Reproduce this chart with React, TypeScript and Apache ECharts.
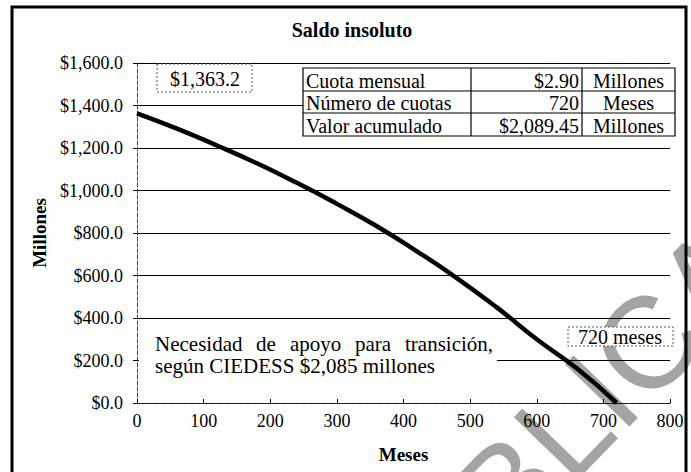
import React, { useEffect, useRef } from "react";
import * as echarts from "echarts";

const months = [0, 60, 120, 180, 240, 300, 360, 420, 480, 540, 600, 660, 720];
const saldo = [1363.2, 1291, 1212, 1128, 1036, 937, 832, 714, 588, 450, 300, 163, 0];
const xTicks = { min: 0, max: 800, interval: 100 };
const yTicks = { min: 0, max: 1600, interval: 200 };
const tableRows = [
  ["Cuota mensual", "$2.90", "Millones"],
  ["Número de cuotas", "720", "Meses"],
  ["Valor acumulado", "$2,089.45", "Millones"],
];
const startLabel = "$1,363.2";
const endLabel = "720 meses";
const noteLine1Words = ["Necesidad", "de", "apoyo", "para", "transición,"];
const noteLine2 = "según CIEDESS $2,085 millones";
const watermark = "PÚBLICA";

const SERIF = "'Liberation Serif', 'Times New Roman', serif";

export default function App() {
  const ref = useRef<HTMLDivElement>(null);
  useEffect(() => {
    const chart = echarts.init(ref.current!, null, { renderer: "svg" });
    const data = months.map((m, i) => [m, saldo[i]]);

    const tx0 = 303, tx1 = 471, tx2 = 582, tx3 = 675;
    const ty = [68, 91, 113, 136];
    const tableEls: any[] = [
      { type: "rect", shape: { x: tx0, y: ty[0], width: tx3 - tx0, height: ty[3] - ty[0] }, style: { fill: "#fff", stroke: "#000", lineWidth: 1.2 }, z: 10 },
      { type: "line", shape: { x1: tx0, y1: ty[1], x2: tx3, y2: ty[1] }, style: { stroke: "#000", lineWidth: 1.2 }, z: 11 },
      { type: "line", shape: { x1: tx0, y1: ty[2], x2: tx3, y2: ty[2] }, style: { stroke: "#000", lineWidth: 1.2 }, z: 11 },
      { type: "line", shape: { x1: tx1, y1: ty[0], x2: tx1, y2: ty[3] }, style: { stroke: "#000", lineWidth: 1.2 }, z: 11 },
      { type: "line", shape: { x1: tx2, y1: ty[0], x2: tx2, y2: ty[3] }, style: { stroke: "#000", lineWidth: 1.2 }, z: 11 },
    ];
    tableRows.forEach((r, i) => {
      const cy = (ty[i] + ty[i + 1]) / 2 + 1;
      tableEls.push({ type: "text", x: tx0 + 3, y: cy, z: 12, style: { text: r[0], font: `20px ${SERIF}`, fill: "#000", textAlign: "left", textVerticalAlign: "middle" } });
      tableEls.push({ type: "text", x: tx2 - 3, y: cy, z: 12, style: { text: r[1], font: `20px ${SERIF}`, fill: "#000", textAlign: "right", textVerticalAlign: "middle" } });
      tableEls.push({ type: "text", x: (tx2 + tx3) / 2, y: cy, z: 12, style: { text: r[2], font: `20px ${SERIF}`, fill: "#000", textAlign: "center", textVerticalAlign: "middle" } });
    });

    const wordX = [155, 256, 290, 355, 405];
    const noteEls: any[] = noteLine1Words.map((w, i) => ({
      type: "text", x: wordX[i], y: 344, z: 11,
      style: { text: w, font: `21px ${SERIF}`, fill: "#000", textAlign: "left", textVerticalAlign: "middle" },
    }));
    noteEls.push({ type: "text", x: 155, y: 366, z: 11, style: { text: noteLine2, font: `21px ${SERIF}`, fill: "#000", textAlign: "left", textVerticalAlign: "middle" } });

    chart.setOption({
      animation: false,
      backgroundColor: "#fff",
      grid: { left: 137, right: 21, top: 63, bottom: 69 },
      xAxis: {
        type: "value",
        min: xTicks.min,
        max: xTicks.max,
        interval: xTicks.interval,
        name: "Meses",
        nameLocation: "middle",
        nameGap: 42,
        nameTextStyle: { fontFamily: SERIF, fontWeight: "bold", fontSize: 19, color: "#000" },
        axisLine: { onZero: false, lineStyle: { color: "#222", width: 1.2, type: [5, 2] } },
        axisTick: { inside: true, length: 4, lineStyle: { color: "#000" } },
        axisLabel: { color: "#000", fontFamily: SERIF, fontSize: 18, margin: 9 },
        splitLine: { show: false },
      },
      yAxis: {
        type: "value",
        min: yTicks.min,
        max: yTicks.max,
        interval: yTicks.interval,
        name: "Millones",
        nameLocation: "middle",
        nameGap: 88,
        nameTextStyle: { fontFamily: SERIF, fontWeight: "bold", fontSize: 19, color: "#000" },
        axisLine: { show: true, lineStyle: { color: "#444", width: 1, type: [4, 2] } },
        axisTick: { show: true, length: 4, lineStyle: { color: "#000" } },
        axisLabel: {
          color: "#000",
          fontFamily: SERIF,
          fontSize: 18,
          margin: 14,
          formatter: (v: number) => "$" + v.toLocaleString("en-US", { minimumFractionDigits: 1, maximumFractionDigits: 1 }),
        },
        splitLine: { show: true, lineStyle: { color: "#000", width: 1 } },
      },
      series: [
        {
          type: "line",
          data,
          smooth: true,
          showSymbol: false,
          lineStyle: { color: "#000", width: 4.5 },
          z: 5,
        },
      ],
      graphic: [
        {
          type: "text",
          x: 546,
          y: 448,
          rotation: (46 * Math.PI) / 180,
          z: -10,
          silent: true,
          style: { text: watermark, font: `130px 'Liberation Sans', Arial, sans-serif`, fill: "#a4a4a4", textAlign: "center", textVerticalAlign: "middle" },
        },
        { type: "rect", shape: { x: 12, y: 7, width: 674, height: 480 }, style: { fill: "none", stroke: "#000", lineWidth: 3 }, z: 20, silent: true },
        { type: "text", x: 352, y: 30, style: { text: "Saldo insoluto", font: `bold 20px ${SERIF}`, fill: "#000", textAlign: "center", textVerticalAlign: "middle" } },
        { type: "rect", shape: { x: 157, y: 64, width: 95, height: 28 }, style: { fill: "#fff", stroke: "#555", lineWidth: 1, lineDash: [2, 2] }, z: 10 },
        { type: "text", x: 205, y: 79, z: 11, style: { text: startLabel, font: `20px ${SERIF}`, fill: "#000", textAlign: "center", textVerticalAlign: "middle" } },
        { type: "rect", shape: { x: 568, y: 327, width: 105, height: 19 }, style: { fill: "#fff", stroke: "#555", lineWidth: 1, lineDash: [2, 2] }, z: 10 },
        { type: "text", x: 620, y: 337, z: 11, style: { text: endLabel, font: `20px ${SERIF}`, fill: "#000", textAlign: "center", textVerticalAlign: "middle" } },
        { type: "rect", shape: { x: 139, y: 326, width: 358, height: 52 }, style: { fill: "#fff" }, z: 3 },
        ...noteEls,
        ...tableEls,
      ],
    });
    return () => chart.dispose();
  }, []);
  return <div ref={ref} style={{ width: 691, height: 472, position: "absolute", left: 0, top: 0 }} />;
}
